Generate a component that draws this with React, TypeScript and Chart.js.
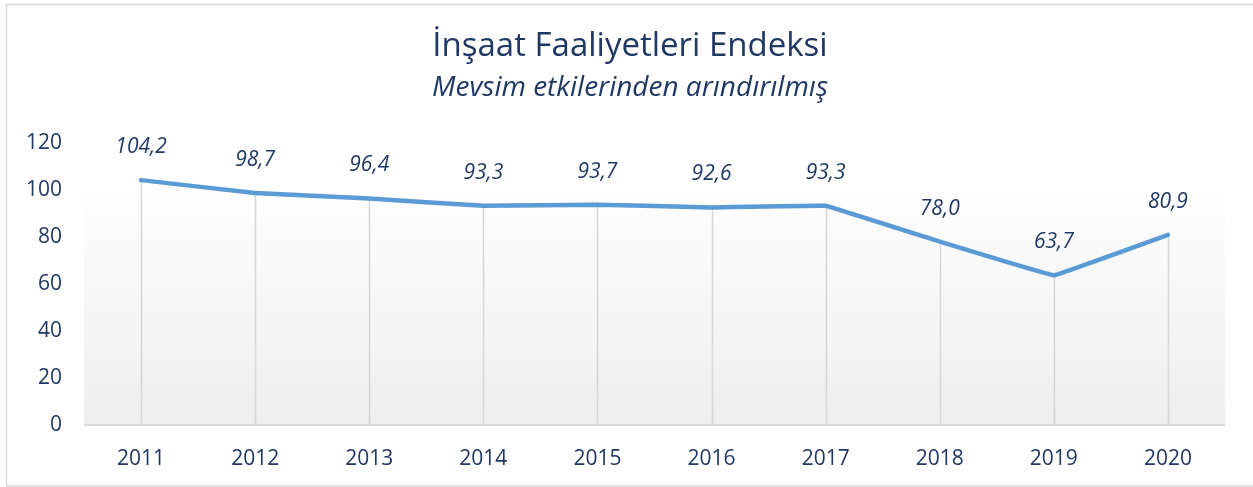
import React, { useEffect, useRef } from "react";
import { Chart, registerables } from "chart.js";

Chart.register(...registerables);

const years = ["2011", "2012", "2013", "2014", "2015", "2016", "2017", "2018", "2019", "2020"];
const indexValues = [104.2, 98.7, 96.4, 93.3, 93.7, 92.6, 93.3, 78.0, 63.7, 80.9];
const yTicks = [0, 20, 40, 60, 80, 100, 120];
const titleText = "İnşaat Faaliyetleri Endeksi";
const subtitleText = "Mevsim etkilerinden arındırılmış";

const FONT = "'Open Sans', sans-serif";
const NAVY = "#1F3864";

const decorPlugin = {
  id: "decor",
  beforeDraw(chart: any) {
    const { ctx, chartArea, width } = chart;
    ctx.save();
    ctx.fillStyle = "#ffffff";
    ctx.fillRect(0, 0, chart.width, chart.height);
    ctx.strokeStyle = "#d9d9d9";
    ctx.lineWidth = 1.5;
    ctx.strokeRect(6.5, 4.5, width + 20, chart.height - 5.5);
    // plot background gradient
    const g = ctx.createLinearGradient(0, chartArea.top, 0, chartArea.bottom);
    g.addColorStop(0, "#ffffff");
    g.addColorStop(0.12, "#ffffff");
    g.addColorStop(1, "#eeeeee");
    ctx.fillStyle = g;
    ctx.fillRect(chartArea.left, chartArea.top, chartArea.right - chartArea.left, chartArea.bottom - chartArea.top);
    // titles
    ctx.fillStyle = NAVY;
    ctx.textAlign = "center";
    ctx.textBaseline = "middle";
    ctx.font = `33px ${FONT}`;
    ctx.fillText(titleText, 630, 47);
    ctx.font = `italic 28px ${FONT}`;
    ctx.fillText(subtitleText, 630, 88);
    ctx.restore();
  },
  beforeDatasetsDraw(chart: any) {
    const { ctx, chartArea } = chart;
    const meta = chart.getDatasetMeta(0);
    ctx.save();
    ctx.strokeStyle = "#d6d6d6";
    ctx.lineWidth = 1.5;
    meta.data.forEach((pt: any) => {
      ctx.beginPath();
      ctx.moveTo(Math.round(pt.x) + 0.5, pt.y);
      ctx.lineTo(Math.round(pt.x) + 0.5, chartArea.bottom);
      ctx.stroke();
    });
    ctx.strokeStyle = "#d9d9d9";
    ctx.lineWidth = 2;
    ctx.beginPath();
    ctx.moveTo(chartArea.left, chartArea.bottom);
    ctx.lineTo(chartArea.right, chartArea.bottom);
    ctx.stroke();
    ctx.restore();
  },
  afterDatasetsDraw(chart: any) {
    const { ctx } = chart;
    const meta = chart.getDatasetMeta(0);
    ctx.save();
    ctx.fillStyle = NAVY;
    ctx.textAlign = "center";
    ctx.textBaseline = "middle";
    ctx.font = `italic 21px ${FONT}`;
    meta.data.forEach((pt: any, i: number) => {
      const label = indexValues[i].toFixed(1).replace(".", ",");
      ctx.fillText(label, pt.x, pt.y - 33);
    });
    ctx.restore();
  },
};

export default function App() {
  const ref = useRef<HTMLCanvasElement | null>(null);
  useEffect(() => {
    document.body.style.margin = "0";
    const chart = new Chart(ref.current as HTMLCanvasElement, {
      type: "line",
      data: {
        labels: years,
        datasets: [
          {
            data: indexValues,
            borderColor: "#5B9BD5",
            borderWidth: 4.5,
            pointRadius: 0,
            tension: 0.03,
            fill: false,
            borderJoinStyle: "round",
            borderCapStyle: "round",
          },
        ],
      },
      options: {
        animation: false,
        responsive: false,
        layout: { padding: { top: 143, right: 28, bottom: 0, left: 0 } },
        plugins: { legend: { display: false }, tooltip: { enabled: false }, title: { display: false } },
        scales: {
          x: {
            offset: true,
            grid: { display: false, drawTicks: false },
            border: { display: false },
            ticks: { color: NAVY, font: { family: FONT, size: 21 }, padding: 21 },
            afterFit: (s: any) => {
              s.height = 62;
            },
          },
          y: {
            min: 0,
            max: 120,
            afterBuildTicks: (s: any) => {
              s.ticks = yTicks.map((v) => ({ value: v }));
            },
            grid: { display: false, drawTicks: false },
            border: { display: false },
            ticks: { color: NAVY, font: { family: FONT, size: 21 }, padding: 22 },
            afterFit: (s: any) => {
              s.width = 84;
            },
          },
        },
      },
      plugins: [decorPlugin],
    });
    return () => chart.destroy();
  }, []);
  return <canvas ref={ref} width={1253} height={487} style={{ display: "block" }} />;
}
